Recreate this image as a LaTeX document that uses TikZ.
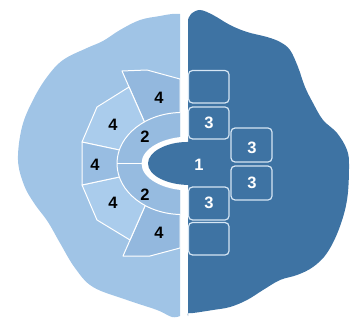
\documentclass[tikz,border=0pt]{standalone}
\usepackage{fontspec}
\setmainfont{Liberation Sans}
\definecolor{blob}{RGB}{160,196,230}
\definecolor{dark}{RGB}{62,115,163}
\definecolor{secA}{RGB}{147,184,222}
\definecolor{secB}{RGB}{170,204,236}
\definecolor{secC}{RGB}{152,189,226}
\definecolor{ringc}{RGB}{150,187,224}
\definecolor{edge}{RGB}{214,230,244}
\tikzset{
  sector/.style={draw=white, line width=1pt, line join=round},
  cell/.style={draw=edge, line width=1.2pt, fill=dark, rounded corners=4pt},
  lab/.style={font=\fontsize{16.5}{16.5}\selectfont\bfseries, text=black, inner sep=0pt},
  wlab/.style={font=\fontsize{16.5}{16.5}\selectfont\bfseries, text=white, inner sep=0pt}
}
\begin{document}
\begin{tikzpicture}[x=1pt,y=-1pt]
\useasboundingbox (0,0) rectangle (352,320);
% left blob
\fill[blob] plot[smooth, tension=0.6] coordinates {(180,14) (172,14) (160,16) (140,20) (120,30) (103,41) (87,48) (63,60) (47,77) (33,100) (22,127) (18,160) (24,185) (34,203) (48,222) (60,243) (75,268) (93,287) (127,300) (157,310) (172,317) (180,316)} -- cycle;
% right blob
\fill[dark] plot[smooth, tension=0.6] coordinates {(188,316) (188,313) (193,313) (213,310) (230,307) (247,300) (263,290) (280,280) (297,275) (313,267) (327,253) (339,229) (347,200) (349,167) (347,150) (337,133) (323,120) (313,103) (305,87) (298,67) (290,50) (280,42) (267,37) (247,32) (230,25) (213,15) (200,10) (191,14) (188,20)} -- cycle;
% outer sectors
\path[sector, fill=secA] (180,79) -- (147,70) -- (122,71) -- (144,121) -- (162,163.5) -- (180,163.5) -- cycle;
\path[sector, fill=secA] (180,248) -- (150,256) -- (123,256) -- (145,206) -- (162,163.5) -- (180,163.5) -- cycle;
\path[sector, fill=secB] (129,87) -- (97,107) -- (82,142) -- (119.3,150) -- (150,156) -- (144,121) -- cycle;
\path[sector, fill=secB] (82,185) -- (97,220) -- (130,240) -- (145,206) -- (150,171) -- (119.3,177) -- cycle;
\path[sector, fill=secC] (82,142) -- (82,185) -- (119.3,177) -- (150,171) -- (150,156) -- (119.3,150) -- cycle;
% ring 2
\begin{scope}
\clip (100,100) rectangle (180,230);
\path[sector, fill=ringc] (182,163.5) ellipse [x radius=65, y radius=51];
\end{scope}
\coordinate (r2l) at (117,163.5);
\coordinate (r2r) at (143,163.5);
\draw[white, line width=1pt] (r2l) -- (r2r);
% halo
\begin{scope}
\clip (100,100) rectangle (188,230);
\fill[white] (190,163.5) ellipse [x radius=48.5, y radius=27];
\end{scope}
% tongue
\fill[dark, rounded corners=3pt] (229,142) -- (190,142) [sharp corners] arc[start angle=270, end angle=90, x radius=42, y radius=21.5] [rounded corners=3pt] -- (229,185) -- cycle;
% boxes
\draw[cell] (188.5,70.5) rectangle (229,103) coordinate (bA);
\draw[cell] (188.5,107) rectangle (229,139) coordinate (bB);
\draw[cell] (188.5,187) rectangle (229,220) coordinate (bC);
\draw[cell] (188.5,222.5) rectangle (229,255) coordinate (bD);
\draw[cell] (231,128) rectangle (272,162) coordinate (bR1);
\draw[cell] (231,166) rectangle (272,200) coordinate (bR2);
% labels
\node[lab] (l4a) at (159,98) {4};
\node[lab] (l4b) at (113,125) {4};
\node[lab] (l4c) at (95,165) {4};
\node[lab] (l4d) at (113,203) {4};
\node[lab] (l4e) at (159,233) {4};
\node[lab] (l2a) at (145,137) {2};
\node[lab] (l2b) at (145,195) {2};
\node[wlab] (l1) at (199,165) {1};
\node[wlab] (l3a) at (209,123) {3};
\node[wlab] (l3b) at (209,203) {3};
\node[wlab] (l3c) at (252,148) {3};
\node[wlab] (l3d) at (252,183) {3};
\end{tikzpicture}
\end{document}
